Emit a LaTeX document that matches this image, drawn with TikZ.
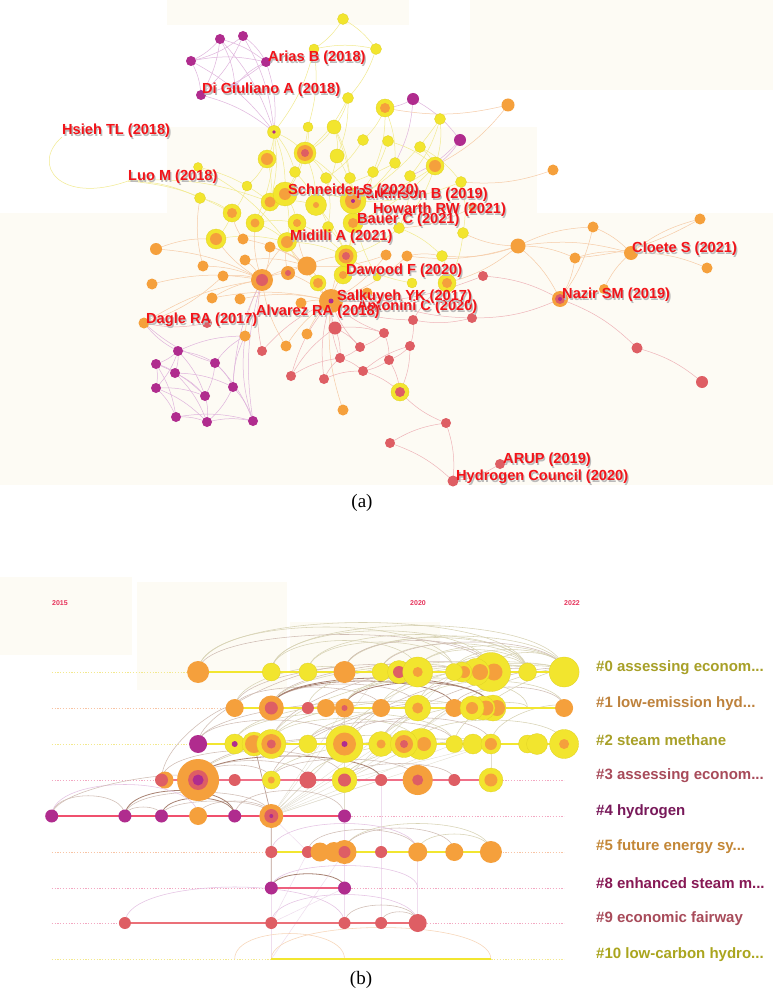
\documentclass[tikz,border=0pt]{standalone}
\usepackage{fontspec}
\setmainfont{Liberation Serif}
\newfontfamily\sansb{Liberation Sans}
\usetikzlibrary{calc}
\definecolor{cY}{HTML}{F2E52E}
\definecolor{cYd}{HTML}{E0D224}
\definecolor{cO}{HTML}{F5A03C}
\definecolor{cR}{HTML}{DE5E64}
\definecolor{cP}{HTML}{B02C8E}
\definecolor{bgc}{HTML}{FDFBF4}
\definecolor{labred}{HTML}{F2141A}
\definecolor{shc}{HTML}{BBBBBB}
\definecolor{ceY}{HTML}{F2EA90}
\definecolor{ceO}{HTML}{F6CBA6}
\definecolor{ceR}{HTML}{EEB4B8}
\definecolor{ceP}{HTML}{DFB4DC}
\definecolor{cab}{HTML}{D0BDB4}
\definecolor{cad}{HTML}{A88272}
\definecolor{cao}{HTML}{D8D3B5}
\definecolor{cap}{HTML}{E5C3E3}
\definecolor{cvp}{HTML}{EFDDEE}
\definecolor{caoL}{HTML}{F7D5B8}
\definecolor{cvb}{HTML}{BA9C91}
\definecolor{cvo}{HTML}{E2DED0}
\definecolor{yrc}{HTML}{E6325A}
\definecolor{lk0}{HTML}{A8A028}
\definecolor{lk1}{HTML}{BE823C}
\definecolor{lk3}{HTML}{A84B5A}
\definecolor{lk4}{HTML}{78195A}
\definecolor{lk5}{HTML}{C38737}
\definecolor{lk8}{HTML}{871955}
\definecolor{lk10}{HTML}{AAA51E}
\definecolor{lnY}{HTML}{F2E630}
\definecolor{lnPa}{HTML}{F07088}
\definecolor{lnPb}{HTML}{F0506E}
\definecolor{lnPc}{HTML}{EE607E}
\definecolor{lnPd}{HTML}{EB7078}
\definecolor{cdY}{HTML}{F3E98E}
\definecolor{cdO}{HTML}{F8C4A4}
\definecolor{cdP}{HTML}{F3A8C2}
\newcommand\dsk[3]{\path[#1] (#2) circle (#3pt);}
\newcommand\arcb[4][]{\draw[#1] (#2) .. controls +(0,-#4) and +(0,-#4) .. (#3);}
\newcommand\arcx[5][]{\draw[#1] (#2) .. controls +(0,-#4) and +(0,-#5) .. (#3);}
\newcommand\alab[3]{\node[alabs] at ([shift={(1.3,1.3)}]#2) {#3};\node[alab] (#1) at (#2) {#3};}
\begin{document}
\begin{tikzpicture}[x=1pt,y=-1pt,
 fY/.style={fill=cY,draw=cYd,line width=0.3pt},
 fO/.style={fill=cO},
 fR/.style={fill=cR},
 fP/.style={fill=cP},
 edgeY/.style={draw=ceY,line width=0.5pt},
 edgeO/.style={draw=ceO,line width=0.5pt},
 edgeR/.style={draw=ceR,line width=0.5pt},
 edgeP/.style={draw=ceP,line width=0.5pt},
 alab/.style={anchor=west,inner sep=0pt,text=labred,font=\sansb\bfseries\fontsize{14.6}{17}\selectfont},
 alabs/.style={alab,text=shc},
 blab/.style={anchor=west,inner sep=0pt,font=\sansb\bfseries\fontsize{15}{18}\selectfont},
 yrlab/.style={inner sep=0pt,text=yrc,font=\sansb\bfseries\fontsize{7}{8}\selectfont},
 captxt/.style={inner sep=0pt,font=\fontsize{19}{22}\selectfont},
 dotrow/.style={line width=1pt,dash pattern=on 1.2pt off 1.6pt},
 solrow/.style={line width=1.7pt},
 arcB/.style={draw=cab,line width=0.55pt},
 arcD/.style={draw=cad,line width=0.8pt},
 arcO/.style={draw=cao,line width=0.55pt},
 arcP/.style={draw=cap,line width=0.55pt},
 arcL/.style={draw=caoL,line width=0.55pt},
 vlB/.style={draw=cvb,line width=0.7pt},
 vlO/.style={draw=cvo,line width=0.4pt},
 vlP/.style={draw=cvp,line width=0.5pt}]
\useasboundingbox (0,0) rectangle (773,992);
\fill[white] (0,0) rectangle (773,992);
% faint backgrounds
\fill[bgc] (167,0) rectangle (409,25);
\fill[bgc] (470,0) rectangle (773,90);
\fill[bgc] (167,127) rectangle (537,213);
\fill[bgc] (0,213) rectangle (773,485);
\fill[bgc] (0,577) rectangle (132,655);
\fill[bgc] (137,582) rectangle (287,690);
\fill[bgc] (290,622) rectangle (440,680);
% ================= (a) =================
\foreach \nn/\xx/\yy in {
p1/243/36, p2/220/39, p3/191/61, p4/266/62, p5/201/95, p6/235/86,
t1/343/19, t2/314/49, t3/376/49, q1/413/99, q2/460/140,
y1/348/98, y2/385/108, y3/440/119, y4/274/132, y5/308/127, y6/334/127, y7/363/140, y8/388/141, y9/420/147, y10/305/153, y11/267/159, y12/337/156, y13/435/166, y14/395/163, y15/295/172, y16/326/178, y17/350/178, y18/373/172, y19/410/176, y20/461/182, y21/198/167, y22/247/186, y23/200/198, y24/270/202, y25/285/194, y26/316/205, y27/353/201, y28/232/213, y29/255/223, y30/297/223, y31/328/227, y32/353/223, y33/399/228, y34/463/233, y35/216/239, y36/287/242, y37/346/256, y38/442/256, y39/318/283, y40/343/275, y41/447/283, y42/412/283, y43/377/277, y44/400/392,
o1/508/105, o2/553/170, o3/473/207, o4/243/239, o5/270/247, o6/156/249, o7/245/260, o8/203/266, o9/307/266, o10/386/255, o11/407/256, o12/518/246, o13/593/227, o14/700/219, o15/575/258, o16/631/253, o17/707/268, o18/604/289, o19/560/299, o20/223/276, o21/262/280, o22/288/273, o23/152/284, o24/212/298, o25/240/299, o26/301/303, o27/331/301, o28/367/293, o29/144/323, o30/245/336, o31/307/334, o32/286/346, o33/343/410,
r1/483/276, r2/472/318, r3/335/328, r4/413/320, r5/262/351, r6/384/333, r7/360/347, r8/410/346, r9/340/358, r10/389/360, r11/291/376, r12/324/379, r13/363/371, r14/637/348, r15/702/382, r16/446/423, r17/390/443, r18/500/464, r19/453/481, r20/207/323,
m1/178/351, m2/156/364, m3/215/363, m4/175/373, m5/156/388, m6/233/387, m7/205/396, m8/176/417, m9/207/422, m10/253/421,
h1/62/137, h2/128/181}
 {\coordinate (\nn) at (\xx,\yy);}
% edges
\foreach \na/\nb in {t1/t2, t1/t3, t2/t3, t2/y5, t3/y1, t2/y4, y1/y6, y1/y12, y1/y10, y2/y7, y2/y14, y2/y18, y3/y13, y3/y19, y3/y27, y4/y10, y4/y15, y4/y25, y4/y11, y4/y24, y4/y29, y5/y10, y5/y25, y6/y10, y6/y12, y6/y17, y6/y32, y7/y16, y8/y13, y8/y27, y9/y13, y9/y20, y10/y16, y10/y25, y10/y26, y10/y27, y11/y24, y11/y22, y12/y26, y12/y27, y13/y27, y13/y33, y13/y32, y14/y27, y14/y25, y15/y26, y16/y31, y17/y27, y18/y32, y19/y33, y20/y34, y20/y27, y21/y24, y21/y36, y22/y28, y23/y28, y24/y29, y24/y26, y25/y30, y25/y27, y26/y31, y27/y32, y28/y35, y29/y36, y29/y30, y30/y36, y31/y37, y32/y37, y33/y38, y34/y41, y35/y36, y36/y37, y37/y40, y38/y41, y27/y37, y25/y36, y26/y37, y30/y37, y32/y40, y33/y37, y42/y37, y43/y27, y39/y36, h2/y23, h2/y28, h2/y24}
 {\draw[edgeY] (\na) to[bend left=12] (\nb);}
\draw[edgeY] (h1) .. controls (30,165) and (60,205) .. (h2);
\foreach \na/\nb in {o4/o9, o5/o9, o7/o21, o8/o21, o6/o21, o20/o21, o21/o9, o21/o22, o22/o27, o9/o27, o23/o21, o24/o21, o25/o27, o26/o27, o29/o21, o30/o21, o31/o27, o32/o21, o28/o27, o10/o9, o11/o27, o9/y37, o21/y35, o22/y36, o9/y36, o27/y40, o27/y39, o4/y28, o6/y35, o12/o16, o12/o13, o12/o15, o13/o16, o15/o16, o13/o19, o15/o19, o16/o14, o16/o17, o18/o16, o18/o19, o12/y34, o12/o11, o1/y2, o1/y13, o2/y20, o3/y33, o12/o19, o14/o15, o10/o27, o11/y38, o22/o9, o5/o21, o8/y23, o20/o29, o7/o9, o24/o27, o21/y29, o9/y30, o27/y37, o12/y38, o12/y41, o21/y36, o33/o27, o32/o27}
 {\draw[edgeO] (\na) to[bend left=12] (\nb);}
\foreach \na/\nb in {r3/r9, r3/r7, r4/r8, r6/r7, r6/r10, r7/r9, r8/r10, r9/r13, r10/r13, r11/r3, r12/r9, r5/o27, r11/o27, r12/o27, r13/y44, r10/y44, r8/y44, r4/o27, r6/o27, r16/y44, r17/r16, r17/r19, r18/r19, r16/r19, r14/r15, r2/o28, r1/o27, r1/o19, r2/r4, r13/r8, r3/r6, o19/r2, o19/r14, r3/o27, r7/o27, r9/o27, r5/o21, r20/o29, r12/r13, r11/r9, r4/y41}
 {\draw[edgeR] (\na) to[bend left=12] (\nb);}
\foreach \na/\nb in {p1/p3, p1/p4, p1/p5, p2/p3, p2/p4, p2/p5, p3/p4, p3/p5, p4/p5, p2/p6, p6/p4, p1/y4, p5/y4, p4/y4, p3/y4, p2/y4, m1/m2, m1/m3, m1/m4, m2/m4, m2/m5, m3/m6, m3/m7, m4/m7, m5/m8, m5/m7, m6/m9, m6/m10, m7/m9, m8/m9, m9/m10, m4/m6, m2/m8, m1/m7, m3/m10, m8/m10, m1/o29, m3/o29, m1/o30, m3/o30, m6/o30, m10/o30, m10/o21, q1/y2, q1/q2, q2/y13, q2/y19, q1/y14, m6/o21, m5/m9, m2/m7, m4/m9, m1/m5}
 {\draw[edgeP] (\na) to[bend left=12] (\nb);}
% nodes (a)
\foreach \nn/\rad in {t1/5.5, t2/5, t3/5.5, y1/5.5, y3/5.5, y5/5, y6/7, y7/5.5, y8/5.5, y9/5.5, y12/7, y14/5.5, y15/5.5, y16/5.5, y17/5.5, y18/5.5, y19/5.5, y20/5.5, y21/4.5, y22/5, y23/5.5, y31/5.5, y33/5.5, y34/5.5, y38/5.5, y42/5, y43/4}
 {\path[fY] (\nn) circle (\rad pt);}
\foreach \nn/\ra/\rb in {y2/9/5, y11/9/6, y13/9/6, y24/9/5.5, y25/12/6, y26/10.5/3, y28/9/5, y29/9/4.5, y30/9/4, y32/10/5, y35/10/6, y36/9.5/6, y39/8/5, y40/9/4, y41/9/5}
 {\path[fY] (\nn) circle (\ra pt); \path[fO] (\nn) circle (\rb pt);}
\dsk{fY}{y4}{6.5}\dsk{fP}{y4}{1.8}
\dsk{fY}{y10}{11}\dsk{fO}{y10}{8}\dsk{fR}{y10}{4}
\dsk{fY}{y27}{13}\dsk{fO}{y27}{8}\dsk{fP}{y27}{2}
\dsk{fY}{y37}{11}\dsk{fO}{y37}{7.5}\dsk{fR}{y37}{4}
\dsk{fY}{y44}{9}\dsk{fR}{y44}{5}
\foreach \nn/\rad in {o1/6.5, o2/5.5, o3/4.5, o4/5.5, o5/5.5, o6/6, o7/5.5, o8/5.5, o9/9.5, o10/5.5, o11/5.5, o12/7.5, o13/5.5, o14/5.5, o15/5.5, o16/7, o17/5.5, o18/5, o20/5.5, o23/5.5, o24/5.5, o25/5.5, o26/5.5, o28/5.5, o29/5.5, o30/5.5, o31/5.5, o32/5.5, o33/5.5}
 {\path[fO] (\nn) circle (\rad pt);}
\dsk{fO}{o19}{8}\dsk{fR}{o19}{5}\dsk{fP}{o19}{2}
\dsk{fO}{o21}{11}\dsk{fR}{o21}{6}
\dsk{fO}{o22}{7}\dsk{fR}{o22}{3}
\dsk{fO}{o27}{12}\dsk{fP}{o27}{2.5}
\foreach \nn/\rad in {r1/5, r2/5, r3/6.5, r4/5, r5/5, r6/5, r7/5, r8/5, r9/5, r10/5, r11/5, r12/5, r13/5, r14/5.5, r15/6, r16/5, r17/5, r18/5, r19/5.5, r20/5}
 {\path[fR] (\nn) circle (\rad pt);}
\foreach \nn/\rad in {p1/5, p2/5, p3/5, p4/5, p5/5, q1/6, q2/6, m1/5, m2/5, m3/5, m4/5, m5/5, m6/5, m7/5, m8/5, m9/5, m10/5}
 {\path[fP] (\nn) circle (\rad pt);}
\path[fill=ceP] (p6) circle (4pt);
% labels (a)
\alab{lAr}{268,58}{Arias B (2018)}
\alab{lDi}{202,90}{Di Giuliano A (2018)}
\alab{lHs}{62,131}{Hsieh TL (2018)}
\alab{lLu}{128,177}{Luo M (2018)}
\alab{lPa}{356,195}{Parkinson B (2019)}
\alab{lSc}{288,191}{Schneider S (2020)}
\alab{lHo}{373,210}{Howarth RW (2021)}
\alab{lBa}{357,220}{Bauer C (2021)}
\alab{lMi}{290,237}{Midilli A (2021)}
\alab{lCl}{632,249}{Cloete S (2021)}
\alab{lDa}{346,271}{Dawood F (2020)}
\alab{lNa}{562,295}{Nazir SM (2019)}
\alab{lAn}{357,307}{Antonini C (2020)}
\alab{lSa}{337,297}{Salkuyeh YK (2017)}
\alab{lAl}{256,312}{Alvarez RA (2018)}
\alab{lDg}{146,320}{Dagle RA (2017)}
\alab{lAR}{503,460}{ARUP (2019)}
\alab{lHC}{456,477}{Hydrogen Council (2020)}
\node[captxt] (capa) at (362,503) {(a)};
% ================= (b) =================
\foreach \rw/\yy in {0/672,1/708,2/744,3/780,4/816,5/852,8/888,9/923,10/959}
 {\foreach \kk in {0,...,14}
  {\coordinate (g\rw-\kk) at ({51.7+36.6*\kk},\yy);}}
\coordinate (n2a) at (254,744);
\node[yrlab] (yrA) at (60,603) {2015};
\node[yrlab] (yrB) at (418,603) {2020};
\node[yrlab] (yrC) at (572,603) {2022};
% dotted row lines
\draw[dotrow,cdY] (g0-0) -- (g0-14);
\draw[dotrow,cdO] (g1-0) -- (g1-14);
\draw[dotrow,cdY] (g2-0) -- (g2-14);
\draw[dotrow,cdP] (g3-0) -- (g3-14);
\draw[dotrow,cdP] (g4-0) -- (g4-14);
\draw[dotrow,cdO] (g5-0) -- (g5-14);
\draw[dotrow,cdP] (g8-0) -- (g8-14);
\draw[dotrow,cdP] (g9-0) -- (g9-14);
\draw[dotrow,cdY] (g10-0) -- (g10-14);
% thin cross-row lines
\draw[vlB] (n2a) -- (g4-6) -- (g8-6);
\foreach \tt in {g2-8, g2-9, g1-10, g2-10, g1-8, g0-10, g2-11, g1-11, g3-9, g2-12, g1-9, g0-9}
 {\draw[vlO] (g4-6) -- (\tt);}
\foreach \tt in {g1-10, g2-10, g1-11, g0-11, g2-12}
 {\draw[vlO] (g3-8) -- (\tt);}
\foreach \na/\nb in {g10-6/g5-8, g9-6/g5-7, g9-8/g4-8, g9-9/g3-9, g5-7/g4-6, g10-6/g8-6, g9-6/g8-8, g9-10/g5-10}
 {\draw[vlP] (\na) -- (\nb);}
\draw[vlO] (g2-12) -- (g3-12);
\draw[vlO] (g1-8) -- (g4-8);
% arcs
\foreach \na/\nb/\hh in {g0-4/g0-11/60, g0-6/g0-12/55, g0-7/g0-13/50, g0-8/g0-14/48, g0-10/g0-14/35, g0-6/g0-10/42, g0-11/g0-14/30, g1-8/g1-13/40, g1-10/g1-14/36, g2-6/g2-10/34, g2-10/g2-14/32, g2-5/g2-11/42, g5-8/g5-12/38, g5-10/g5-12/24, g0-4/g0-13/66, g0-6/g0-14/62, g0-8/g0-13/46, g0-9/g0-13/38, g0-7/g0-11/40, g0-10/g0-13/30, g0-11/g0-13/22, g0-12/g0-14/26}
 {\arcb[arcO]{\na}{\nb}{\hh}}
\foreach \na/\nb/\hh in {g0-4/g0-12/50, g0-9/g0-14/40, g0-8/g0-12/42, g1-5/g1-9/28, g1-6/g1-10/32, g1-11/g1-14/28, g2-4/g2-8/32, g2-8/g2-12/35, g2-7/g2-11/30, g3-3/g3-8/40, g3-4/g3-6/20, g3-6/g3-10/28, g3-8/g3-11/22, g3-4/g3-7/26, g4-0/g4-2/27, g4-2/g4-3/12, g4-5/g4-8/34, g4-2/g4-6/32, g4-3/g4-6/20, g4-4/g4-6/20, g5-8/g5-11/32, g5-7/g5-10/30, g9-8/g9-10/24, g9-9/g9-10/15}
 {\arcb[arcB]{\na}{\nb}{\hh}}
\foreach \na/\nb/\hh in {g1-6/g1-12/40, g1-8/g1-12/34, g3-4/g3-9/32, g4-2/g4-5/34, g4-3/g4-5/24, g8-6/g8-8/19, g1-6/g1-11/36}
 {\arcb[arcD]{\na}{\nb}{\hh}}
\foreach \na/\nb/\hh in {g4-0/g4-4/42, g5-6/g5-10/38, g9-2/g9-8/48, g9-6/g9-10/38, g8-6/g8-10/30}
 {\arcb[arcP]{\na}{\nb}{\hh}}
\arcb[arcL]{g10-5}{g10-8}{34}
\arcb[arcL]{g10-6}{g10-12}{42}
\foreach \na/\nb/\pa/\pb in {g1-6/g0-12/45/22, g1-5/g0-10/40/18, g2-6/g0-11/50/22, g2-8/g0-13/40/18, g2-9/g0-14/42/18, g2-4/g1-9/35/15, g3-3/g1-5/40/12, g3-4/g2-8/35/15, g2-4/g0-8/40/20, g3-6/g1-10/40/18, g4-0/g3-4/30/15}
 {\arcx[arcB]{\na}{\nb}{\pa}{\pb}}
\foreach \na/\nb/\pa/\pb in {g1-6/g0-14/50/20, g1-8/g0-14/45/18, g1-10/g0-13/40/15, g2-8/g0-12/45/20, g2-6/g0-13/55/25, g2-10/g0-14/40/15, g1-5/g0-8/35/15, g1-7/g0-11/40/18, g2-11/g0-14/35/12, g2-12/g1-14/30/10, g1-9/g0-14/40/15, g2-7/g1-12/35/15, g2-9/g1-13/35/15, g2-6/g1-11/40/18, g2-5/g1-10/40/15, g3-8/g2-12/30/12, g3-6/g2-11/35/15, g3-4/g2-10/40/20, g3-7/g2-12/35/15}
 {\arcx[arcO]{\na}{\nb}{\pa}{\pb}}
% solid row lines
\draw[solrow,draw=lnY] (g0-4) -- (g0-14);
\draw[solrow,draw=lnY] (g1-5) -- (g1-14);
\draw[solrow,draw=lnY] (g2-4) -- (g2-14);
\draw[solrow,draw=lnPa] (g3-3) -- (g3-12);
\draw[solrow,draw=lnPb] (g4-0) -- (g4-8);
\draw[solrow,draw=lnY] (g5-6) -- (g5-12);
\draw[solrow,draw=lnPc] (g8-6) -- (g8-8);
\draw[solrow,draw=lnPd] (g9-2) -- (g9-10);
\draw[solrow,draw=lnY] (g10-6) -- (g10-12);
% row 0 nodes
\dsk{fO}{g0-4}{11}\dsk{fY}{g0-6}{9}\dsk{fY}{g0-7}{9}\dsk{fO}{g0-8}{11}\dsk{fY}{g0-9}{9}
\dsk{fY}{399,672}{11.5}\dsk{fR}{399,672}{6}
\dsk{fY}{g0-10}{15}\dsk{fO}{g0-10}{5}
\dsk{fY}{491,672}{19.5}\dsk{fO}{494,672}{8.5}\dsk{fY}{476,672}{13.5}\dsk{fO}{480,672}{8}\dsk{fY}{462,672}{10}\dsk{fO}{464,672}{6}\dsk{fY}{454,672}{8.5}
\dsk{fY}{g0-13}{9}\dsk{fY}{g0-14}{15}
% row 1 nodes
\dsk{fO}{g1-5}{9}\dsk{fO}{g1-6}{12.5}\dsk{fR}{g1-6}{6.5}\dsk{fR}{g1-7}{6}\dsk{fO}{326,708}{9}
\dsk{fO}{g1-8}{9.5}\dsk{fR}{g1-8}{3}\dsk{fO}{g1-9}{9}\dsk{fY}{g1-10}{13}\dsk{fO}{g1-10}{5.5}\dsk{fO}{g1-11}{9}
\dsk{fY}{493,708}{13}\dsk{fO}{497,708}{8}\dsk{fY}{483,708}{12}\dsk{fO}{486,708}{7.5}\dsk{fY}{472,708}{12}\dsk{fO}{472,708}{6}
\dsk{fO}{g1-14}{9}
% row 2 nodes
\dsk{fP}{g2-4}{9}\dsk{fY}{g2-5}{10}\dsk{fP}{g2-5}{3}
\dsk{fY}{n2a}{12}\dsk{fO}{n2a}{9}
\dsk{fY}{g2-6}{14.5}\dsk{fO}{g2-6}{10}\dsk{fR}{g2-6}{4.5}
\dsk{fY}{g2-7}{9}
\dsk{fY}{g2-8}{18.5}\dsk{fO}{g2-8}{11.5}\dsk{fP}{g2-8}{3}
\dsk{fY}{g2-9}{12.5}\dsk{fO}{g2-9}{4.5}
\dsk{fY}{421,744}{15.5}\dsk{fO}{424,744}{7}
\dsk{fY}{404,744}{13.5}\dsk{fO}{404,744}{9}\dsk{fR}{404,744}{4}
\dsk{fY}{g2-11}{8.5}\dsk{fY}{473,744}{10}\dsk{fY}{g2-12}{10}\dsk{fO}{g2-12}{6}
\dsk{fY}{g2-13}{9}\dsk{fY}{537,744}{10.5}\dsk{fY}{g2-14}{14.5}\dsk{fO}{g2-14}{5}
% row 3 nodes
\dsk{fO}{165,780}{8.5}\dsk{fR}{g3-3}{6.5}
\dsk{fO}{g3-4}{21}\dsk{fR}{g3-4}{10}\dsk{fP}{g3-4}{5.5}
\dsk{fR}{g3-5}{6}\dsk{fY}{g3-6}{9}\dsk{fO}{g3-6}{3.5}\dsk{fR}{g3-7}{8.5}
\dsk{fY}{g3-8}{12.5}\dsk{fR}{g3-8}{6.5}\dsk{fR}{g3-9}{6}
\dsk{fO}{g3-10}{15}\dsk{fR}{g3-10}{5.5}\dsk{fR}{g3-11}{6}
\dsk{fY}{g3-12}{12}\dsk{fO}{g3-12}{6.5}
% row 4 nodes
\dsk{fP}{g4-0}{6.5}\dsk{fP}{g4-2}{6.5}\dsk{fP}{g4-3}{6.5}\dsk{fO}{g4-4}{9}\dsk{fP}{g4-5}{6.5}
\dsk{fO}{g4-6}{12}\dsk{fR}{g4-6}{7}\dsk{fP}{g4-6}{2}\dsk{fP}{g4-8}{6.5}
% row 5 nodes
\dsk{fR}{g5-6}{6}\dsk{fR}{g5-7}{6}\dsk{fO}{320,852}{9.5}\dsk{fO}{334,852}{10}
\dsk{fO}{g5-8}{12}\dsk{fR}{g5-8}{6}\dsk{fR}{g5-9}{6}\dsk{fO}{g5-10}{9.5}\dsk{fO}{g5-11}{9}\dsk{fO}{g5-12}{11}
% row 8, 9 nodes
\dsk{fP}{g8-6}{6.5}\dsk{fP}{g8-8}{6.5}
\dsk{fR}{g9-2}{6}\dsk{fR}{g9-6}{6}\dsk{fR}{g9-8}{6}\dsk{fR}{g9-9}{6}\dsk{fR}{g9-10}{9}
% cluster labels
\node[blab,text=lk0] (L0) at (596,668) {\#0 assessing econom...};
\node[blab,text=lk1] (L1) at (596,704) {\#1 low-emission hyd...};
\node[blab,text=lk0] (L2) at (596,740) {\#2 steam methane};
\node[blab,text=lk3] (L3) at (596,776) {\#3 assessing econom...};
\node[blab,text=lk4] (L4) at (596,812) {\#4 hydrogen};
\node[blab,text=lk5] (L5) at (596,847) {\#5 future energy sy...};
\node[blab,text=lk8] (L8) at (596,883) {\#8 enhanced steam m...};
\node[blab,text=lk3] (L9) at (596,919) {\#9 economic fairway};
\node[blab,text=lk10] (L10) at (596,955) {\#10 low-carbon hydro...};
\node[captxt] (capb) at (361,980) {(b)};
\end{tikzpicture}
\end{document}
